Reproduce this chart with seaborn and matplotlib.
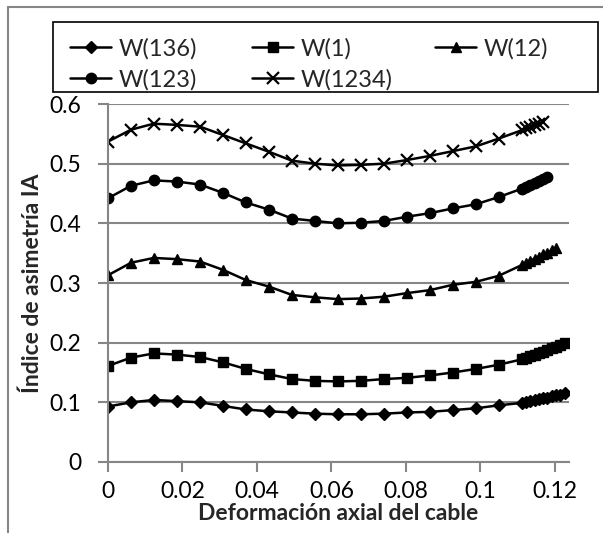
import matplotlib
matplotlib.use("Agg")
import matplotlib.pyplot as plt
from matplotlib.lines import Line2D
from matplotlib.patches import Rectangle
import seaborn as sns
import pandas as pd

x_vals = [0.0, 0.0062, 0.0123, 0.0185, 0.0247, 0.0309, 0.0370, 0.0432, 0.0494,
          0.0556, 0.0617, 0.0679, 0.0741, 0.0802, 0.0864, 0.0926, 0.0988, 0.1049,
          0.1111, 0.1123, 0.1134, 0.1146, 0.1157, 0.1169, 0.1180, 0.1192, 0.1203,
          0.1215, 0.1226]

w136 = [0.093, 0.100, 0.104, 0.102, 0.100, 0.094, 0.088, 0.085, 0.083, 0.081, 0.080,
        0.080, 0.081, 0.083, 0.084, 0.087, 0.090, 0.095,
        0.099, 0.101, 0.102, 0.104, 0.105, 0.107, 0.108, 0.110, 0.112, 0.113, 0.115]
w1 = [0.161, 0.175, 0.182, 0.180, 0.176, 0.167, 0.156, 0.147, 0.139, 0.136, 0.135,
      0.136, 0.139, 0.141, 0.145, 0.150, 0.156, 0.163,
      0.172, 0.175, 0.177, 0.180, 0.183, 0.185, 0.188, 0.191, 0.193, 0.196, 0.199]
w12 = [0.313, 0.334, 0.342, 0.340, 0.336, 0.322, 0.305, 0.294, 0.280, 0.276, 0.273,
       0.274, 0.277, 0.283, 0.288, 0.297, 0.302, 0.312,
       0.330, 0.334, 0.337, 0.341, 0.344, 0.348, 0.351, 0.355, 0.358]
w123 = [0.442, 0.463, 0.472, 0.470, 0.465, 0.451, 0.435, 0.423, 0.408, 0.404, 0.400,
        0.401, 0.404, 0.411, 0.417, 0.425, 0.432, 0.444,
        0.458, 0.461, 0.465, 0.468, 0.471, 0.474, 0.477]
w1234 = [0.537, 0.557, 0.567, 0.565, 0.562, 0.548, 0.534, 0.520, 0.505, 0.500, 0.497,
         0.498, 0.500, 0.506, 0.513, 0.521, 0.529, 0.542,
         0.556, 0.559, 0.561, 0.564, 0.566, 0.569]

series_names = ["W(136)", "W(1)", "W(12)", "W(123)", "W(1234)"]
series_vals = [w136, w1, w12, w123, w1234]
x_ticks = [0, 0.02, 0.04, 0.06, 0.08, 0.1, 0.12]
x_tick_labels = ["0", "0.02", "0.04", "0.06", "0.08", "0.1", "0.12"]
y_ticks = [0, 0.1, 0.2, 0.3, 0.4, 0.5, 0.6]
y_tick_labels = ["0", "0.1", "0.2", "0.3", "0.4", "0.5", "0.6"]

markers = {"W(136)": ("D", 6.5, 1.0), "W(1)": ("s", 6.5, 1.0), "W(12)": ("^", 7, 1.0),
           "W(123)": ("o", 7.5, 1.0), "W(1234)": ("x", 8, 1.6)}

sns.set_theme(style="white")
plt.rcParams["font.family"] = ["Lato", "DejaVu Sans"]
FS = 16.5
LFS = 17
W, H = 603, 533

fig = plt.figure(figsize=(6.03, 5.33), dpi=100)
ax = fig.add_axes([108 / W, 1 - 462 / H, (569 - 108) / W, (462 - 104) / H])

grid_c = "#868686"
for name, vals in zip(series_names, series_vals):
    df = pd.DataFrame({"x": x_vals[:len(vals)], "y": vals})
    m, ms, mew = markers[name]
    sns.lineplot(data=df, x="x", y="y", ax=ax, color="black", linewidth=1.8,
                 marker=m, markersize=ms, markeredgewidth=mew,
                 markeredgecolor="black", markerfacecolor="black",
                 label=name, sort=False, legend=False)

ax.set_xlim(0, 0.1238)
ax.set_ylim(0, 0.6)
ax.set_xticks(x_ticks)
ax.set_xticklabels(x_tick_labels, fontsize=FS)
ax.set_yticks(y_ticks)
ax.set_yticklabels(y_tick_labels, fontsize=FS)
ax.yaxis.grid(True, color=grid_c, linewidth=1.5)
ax.set_axisbelow(True)
for s in ["top", "right"]:
    ax.spines[s].set_visible(False)
for s in ["left", "bottom"]:
    ax.spines[s].set_color(grid_c)
    ax.spines[s].set_linewidth(1.5)
ax.tick_params(axis="both", which="major", direction="out", length=7, width=1.5,
               color=grid_c, labelcolor="black", left=True, bottom=True)
ax.tick_params(axis="y", pad=12)
ax.tick_params(axis="x", pad=7)
ax.set_xlabel("Deformación axial del cable", fontsize=FS, fontweight="bold")
ax.set_ylabel("Índice de asimetría IA", fontsize=FS, fontweight="bold")
ax.xaxis.set_label_coords(0.5, (462 - 513) / 358)
ax.xaxis.label.set_va("center")
ax.yaxis.set_label_coords((32 - 108) / 461, 0.5)
ax.yaxis.label.set_va("center")

# legend: three columns placed like the reference, with one frame around them
handles, labels = ax.get_legend_handles_labels()
columns = [[0, 3], [1, 4], [2]]
col_x = [70, 252, 435]
for idx, cx in zip(columns, col_x):
    lg = fig.legend([handles[i] for i in idx], [labels[i] for i in idx],
                    loc="upper left", bbox_to_anchor=(cx / W, 1 - 38 / H),
                    fontsize=LFS, frameon=False, handlelength=1.75,
                    handletextpad=0.3, borderpad=0, labelspacing=0.4,
                    borderaxespad=0)
fig.add_artist(Rectangle((53 / W, 1 - 92 / H), 545 / W, 70 / H, fill=False,
                         edgecolor="black", linewidth=1.2, transform=fig.transFigure))

fig.add_artist(Line2D([8 / W, 8 / W], [0, 1 - 7 / H], transform=fig.transFigure,
                      color=grid_c, linewidth=1.5))
fig.add_artist(Line2D([8 / W, 1], [1 - 7 / H, 1 - 7 / H], transform=fig.transFigure,
                      color=grid_c, linewidth=1.5))

fig.savefig("out.png", dpi=100)
